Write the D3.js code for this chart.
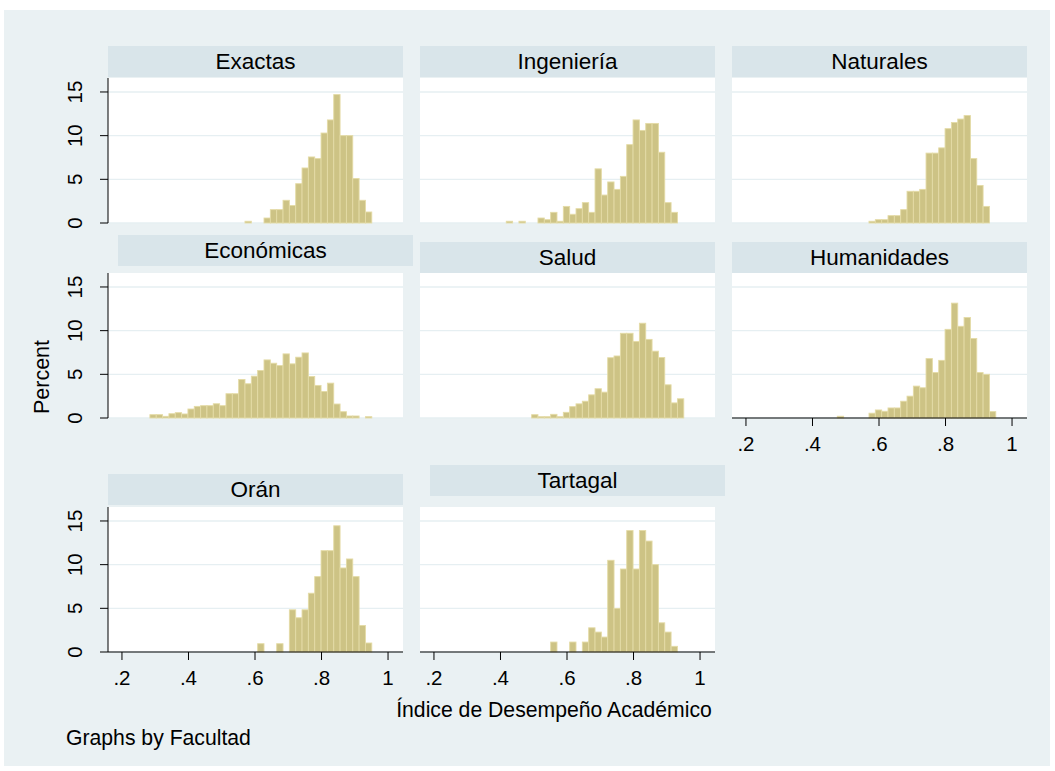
<!DOCTYPE html>
<html>
<head>
<meta charset="utf-8">
<script src="https://cdn.jsdelivr.net/npm/d3@7"></script>
<style>
  body { margin: 0; background: #fff; }
  text { font-family: "Liberation Sans", Arial, sans-serif; fill: #000; }
</style>
</head>
<body>
<svg id="chart" width="1055" height="771"></svg>
<script>
// Histogram bins shared by all faculties
const binStart = 0.284;
const binWidth = 0.01906;

const facultades = ["Exactas", "Ingeniería", "Naturales", "Económicas", "Salud", "Humanidades", "Orán", "Tartagal"];

// percent of students per bin (35 bins)
const exactas = [0,0,0,0,0,0,0,0,0,0,0,0,0,0,0, 0.2,0,0, 0.57,1.53,1.53,2.6,2.0,4.5,6.3,7.56,7.37,10.3,11.8,14.7,10.0,10.0,5.1,2.6,1.26];
const ingenieria = [0,0,0,0,0,0,0, 0.2,0,0.2,0,0, 0.57,0.38,1.22,0.2,1.9,1.0,1.64,2.33,1.22,6.2,3.2,4.7,3.85,5.34,8.97,11.8,10.6,11.4,11.4,8.1,2.33,1.22, 0];
const naturales = [0,0,0,0,0,0,0,0,0,0,0,0,0,0,0, 0.2,0.38,0.38,0.84,0.84,1.53,3.63,3.63,3.85,8.0,8.0,8.6,10.8,11.5,11.9,12.3,7.37,4.3,1.9, 0];
const economicas = [0.38,0.38,0.19,0.49,0.61,0.46,1.03,1.33,1.41,1.41,1.63,1.41,2.78,2.78,4.41,3.92,4.79,5.44,6.65,6.27,6.0,7.34,6.2,6.96,7.45,4.75,3.73,3.04,3.99,1.6,0.72,0.23,0.23,0,0.15];
const salud = [0,0,0,0,0,0,0,0,0,0,0, 0.38,0.15,0.15,0.42,0.15,0.65,1.3,1.62,1.92,2.65,3.35,2.96,6.9,7.1,9.7,9.7,8.77,10.85,9.0,7.65,6.92,3.8,1.73,2.2];
const humanidades = [0,0,0,0,0,0,0,0,0,0, 0.2, 0,0,0,0, 0.55,0.92,0.77,1.15,1.15,1.92,2.5,3.65,3.46,6.8,5.2,6.6,10.15,13.15,10.5,11.5,9.1,5.2,5.0,0.73];
const oran = [0,0,0,0,0,0,0,0,0,0,0,0,0,0,0,0,0, 0.95,0,0,0.95,0, 4.83,3.92,4.83,6.73,8.63,11.6,11.6,14.45,9.62,10.65,8.63,3.04,1.03];
const tartagal = [0,0,0,0,0,0,0,0,0,0,0,0,0,0, 1.14,0,0,1.14,0,1.14, 2.77,2.28,1.71,10.5,5.0,9.5,13.9,9.5,13.9,12.7,10.0,3.34,2.28,0.65, 0];

const series = [exactas, ingenieria, naturales, economicas, salud, humanidades, oran, tartagal];

const xTicks = [0.2, 0.4, 0.6, 0.8, 1];
const xTickLabels = [".2", ".4", ".6", ".8", "1"];
const yTicks = [0, 5, 10, 15];

// layout
const colX = [108, 420, 732];
const rowBase = [223, 418, 652];
const plotW = 295, plotH = 145;
const xDomain = [0.158, 1.045];
const yDomain = [0, 16.6];
// header strip offsets (Stata quirks)
const headerShift = [
  {dx: 0, top: 46}, {dx: 0, top: 46}, {dx: 0, top: 46},
  {dx: 10, top: 235}, {dx: 0, top: 242}, {dx: 0, top: 242},
  {dx: 0, top: 474}, {dx: 10, top: 465}
];
const showXAxis = [false, false, false, false, false, true, true, true];

const svg = d3.select("#chart");

svg.append("rect")
  .attr("x", 4).attr("y", 10).attr("width", 1046).attr("height", 756)
  .attr("fill", "#EAF1F3");

facultades.forEach((name, i) => {
  const col = i % 3, row = Math.floor(i / 3);
  const x0 = colX[col];
  const base = rowBase[row];
  const x = d3.scaleLinear().domain(xDomain).range([x0, x0 + plotW]);
  const y = d3.scaleLinear().domain(yDomain).range([base, base - plotH]);
  const g = svg.append("g");

  // header strip
  const h = headerShift[i];
  g.append("rect")
    .attr("x", x0 + h.dx).attr("y", h.top)
    .attr("width", plotW).attr("height", 31)
    .attr("fill", "#D9E5EA");
  g.append("text")
    .attr("x", x0 + h.dx + plotW / 2).attr("y", h.top + 23)
    .attr("text-anchor", "middle")
    .style("font-size", "22.5px")
    .text(name);

  // plot region
  g.append("rect")
    .attr("x", x0).attr("y", base - plotH)
    .attr("width", plotW).attr("height", plotH)
    .attr("fill", "#fff");

  // grid
  g.selectAll("line.grid")
    .data(yTicks)
    .join("line")
    .attr("class", "grid")
    .attr("x1", x0).attr("x2", x0 + plotW)
    .attr("y1", d => y(d)).attr("y2", d => y(d))
    .attr("stroke", "#E6EFF2").attr("stroke-width", 1.3);

  // bars
  const bins = series[i].map((v, k) => ({x0: binStart + k * binWidth, x1: binStart + (k + 1) * binWidth, v}))
    .filter(b => b.v > 0);
  g.selectAll("rect.bar")
    .data(bins)
    .join("rect")
    .attr("class", "bar")
    .attr("x", d => x(d.x0))
    .attr("width", d => x(d.x1) - x(d.x0))
    .attr("y", d => y(d.v))
    .attr("height", d => y(0) - y(d.v))
    .attr("fill", "#CDC385")
    .attr("stroke", "#E4DBA6")
    .attr("stroke-width", 0.9);

  // y axis on first column
  if (col === 0) {
    const ya = g.append("g").attr("transform", `translate(${x0},0)`);
    ya.append("line")
      .attr("x1", 0).attr("x2", 0)
      .attr("y1", base - plotH).attr("y2", base)
      .attr("stroke", "#000").attr("stroke-width", 1);
    ya.selectAll("line.tick")
      .data(yTicks)
      .join("line")
      .attr("class", "tick")
      .attr("x1", -8).attr("x2", 0)
      .attr("y1", d => y(d)).attr("y2", d => y(d))
      .attr("stroke", "#000");
    ya.selectAll("text")
      .data(yTicks)
      .join("text")
      .attr("transform", d => `translate(-33,${y(d)}) rotate(-90)`)
      .attr("text-anchor", "middle")
      .attr("dy", "0.35em")
      .style("font-size", "20.5px")
      .text(d => d);
  }

  // x axis on bottom panel of each column
  if (showXAxis[i]) {
    const xa = g.append("g").attr("transform", `translate(0,${base})`);
    xa.append("line")
      .attr("x1", x0).attr("x2", x0 + plotW)
      .attr("y1", 0).attr("y2", 0)
      .attr("stroke", "#000");
    xa.selectAll("line.tick")
      .data(xTicks)
      .join("line")
      .attr("class", "tick")
      .attr("x1", d => x(d)).attr("x2", d => x(d))
      .attr("y1", 0).attr("y2", 8)
      .attr("stroke", "#000");
    xa.selectAll("text")
      .data(xTicks)
      .join("text")
      .attr("x", d => x(d)).attr("y", 33)
      .attr("text-anchor", "middle")
      .style("font-size", "20.5px")
      .text((d, k) => xTickLabels[k]);
  }
});

// titles
svg.append("text")
  .attr("transform", "translate(49,377) rotate(-90)")
  .attr("text-anchor", "middle")
  .style("font-size", "21.5px")
  .text("Percent");

svg.append("text")
  .attr("x", 554).attr("y", 717)
  .attr("text-anchor", "middle")
  .style("font-size", "21.2px")
  .text("Índice de Desempeño Académico");

svg.append("text")
  .attr("x", 66).attr("y", 745)
  .style("font-size", "21.2px")
  .text("Graphs by Facultad");
</script>
</body>
</html>
